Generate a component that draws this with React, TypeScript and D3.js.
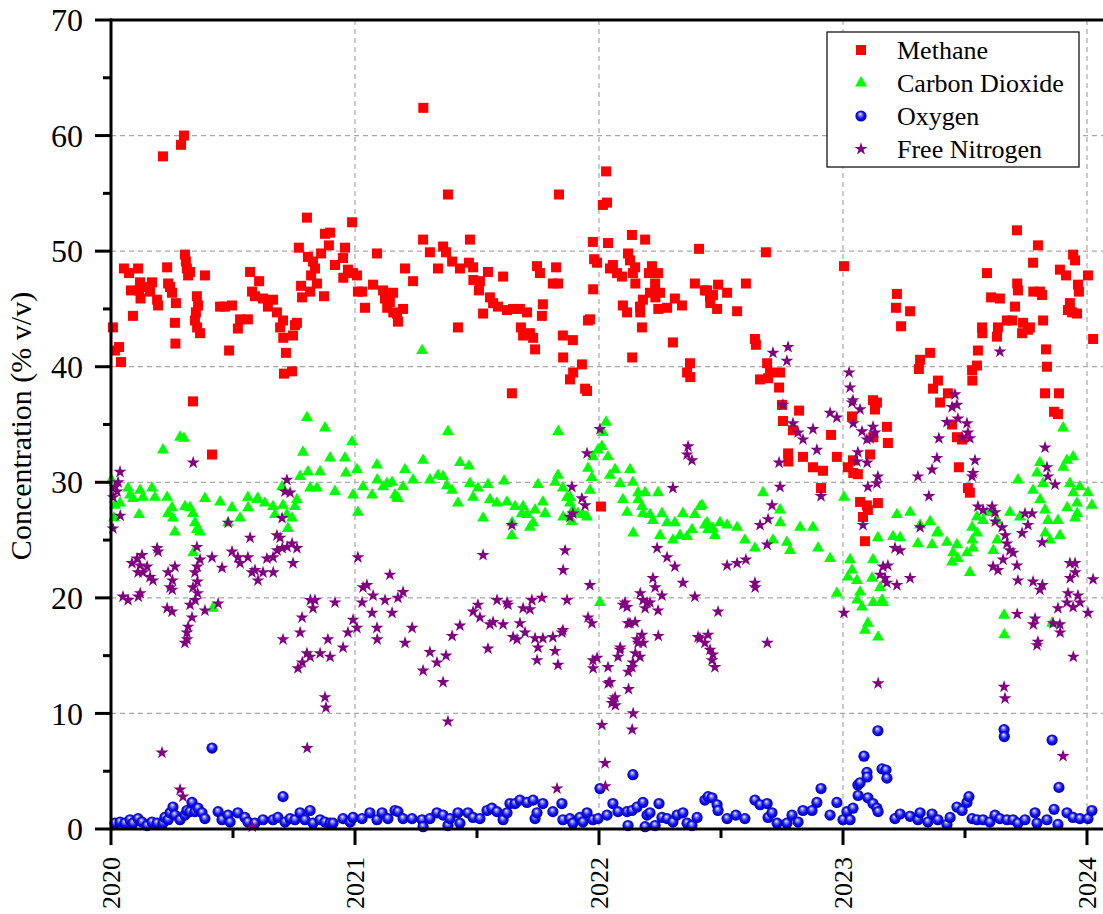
import React from "react";
import * as d3 from "d3";

// [decimal year, % v/v]
const methane = [
  [2020.008,43.4],[2020.016,41.4],[2020.033,41.7],[2020.041,40.4],[2020.053,48.5],[2020.074,48.1],[2020.082,46.6],[2020.090,44.4],[2020.111,48.5],[2020.115,46.6],[2020.119,47.3],[2020.121,45.9],[2020.139,46.9],[2020.160,46.5],[2020.168,47.3],[2020.189,45.8],[2020.193,45.3],[2020.213,58.2],[2020.230,48.6],[2020.234,47.2],[2020.242,46.9],[2020.250,46.4],[2020.262,43.8],[2020.264,42.0],[2020.266,45.5],[2020.287,59.2],[2020.299,60.0],[2020.303,49.7],[2020.307,49.1],[2020.311,48.5],[2020.316,47.9],[2020.324,48.2],[2020.336,37.0],[2020.344,44.0],[2020.348,44.7],[2020.352,46.1],[2020.353,43.4],[2020.357,45.3],[2020.365,42.9],[2020.385,47.9],[2020.414,32.4],[2020.447,45.2],[2020.467,45.2],[2020.484,41.4],[2020.496,45.3],[2020.520,43.3],[2020.529,44.1],[2020.561,44.1],[2020.570,48.2],[2020.578,46.5],[2020.590,46.1],[2020.607,47.4],[2020.623,45.9],[2020.643,45.2],[2020.664,45.8],[2020.680,44.7],[2020.693,43.4],[2020.705,44.0],[2020.706,42.5],[2020.709,39.4],[2020.717,41.2],[2020.742,39.6],[2020.746,42.7],[2020.754,43.6],[2020.762,43.8],[2020.770,50.3],[2020.779,47.0],[2020.783,46.0],[2020.803,52.9],[2020.807,49.5],[2020.816,46.5],[2020.820,47.9],[2020.828,49.1],[2020.836,48.5],[2020.844,47.2],[2020.861,49.8],[2020.873,46.1],[2020.877,51.5],[2020.893,50.5],[2020.898,51.6],[2020.918,48.8],[2020.951,49.4],[2020.952,47.7],[2020.959,50.3],[2020.971,48.4],[2020.988,52.5],[2020.992,48.1],
  [2021.008,47.9],[2021.012,46.5],[2021.029,46.5],[2021.041,45.1],[2021.074,47.1],[2021.090,49.8],[2021.115,46.6],[2021.123,45.9],[2021.131,46.0],[2021.132,45.1],[2021.143,45.6],[2021.156,46.4],[2021.157,44.7],[2021.172,44.6],[2021.176,43.9],[2021.197,45.0],[2021.205,48.5],[2021.238,47.4],[2021.279,51.0],[2021.280,62.4],[2021.307,49.9],[2021.340,48.5],[2021.361,50.4],[2021.373,49.9],[2021.381,54.9],[2021.398,49.1],[2021.422,43.4],[2021.430,48.5],[2021.467,49.0],[2021.471,51.0],[2021.484,48.6],[2021.485,47.5],[2021.508,46.6],[2021.512,47.4],[2021.525,44.6],[2021.545,48.2],[2021.553,46.0],[2021.566,45.5],[2021.586,45.2],[2021.607,47.8],[2021.623,44.9],[2021.643,37.7],[2021.648,45.0],[2021.676,45.0],[2021.680,43.4],[2021.689,42.7],[2021.705,44.7],[2021.717,42.9],[2021.730,42.5],[2021.738,41.5],[2021.746,48.7],[2021.758,48.1],[2021.766,44.4],[2021.770,45.4],[2021.811,47.2],[2021.824,48.6],[2021.832,47.2],[2021.836,54.9],[2021.852,42.7],[2021.853,40.8],[2021.881,38.9],[2021.893,42.3],[2021.894,39.5],[2021.930,40.2],[2021.943,38.1],[2021.951,37.9],[2021.955,44.0],[2021.963,44.1],[2021.975,50.8],[2021.976,46.7],[2021.980,49.3],[2021.992,49.0],
  [2022.008,27.9],[2022.016,54.0],[2022.029,56.9],[2022.033,54.2],[2022.037,50.7],[2022.045,48.5],[2022.057,48.8],[2022.074,48.1],[2022.094,47.8],[2022.098,45.3],[2022.115,44.7],[2022.119,49.8],[2022.127,49.2],[2022.135,51.4],[2022.136,40.8],[2022.139,48.1],[2022.148,48.6],[2022.149,47.2],[2022.168,45.2],[2022.169,44.7],[2022.176,43.4],[2022.180,45.8],[2022.189,51.0],[2022.205,48.1],[2022.209,46.4],[2022.217,48.7],[2022.230,47.2],[2022.231,46.0],[2022.242,48.1],[2022.243,45.0],[2022.250,46.4],[2022.279,45.1],[2022.303,42.1],[2022.311,45.9],[2022.340,45.3],[2022.361,39.5],[2022.373,40.3],[2022.374,39.1],[2022.393,47.2],[2022.410,50.2],[2022.434,46.6],[2022.443,46.6],[2022.455,46.0],[2022.456,45.5],[2022.467,46.2],[2022.484,45.0],[2022.488,47.1],[2022.525,46.4],[2022.566,44.8],[2022.602,47.2],[2022.639,42.4],[2022.643,41.9],[2022.660,38.9],[2022.684,49.9],[2022.689,40.3],[2022.693,39.0],[2022.701,39.5],[2022.738,38.2],[2022.742,39.5],[2022.750,36.7],[2022.754,35.3],[2022.775,32.5],[2022.776,31.8],[2022.795,34.5],[2022.820,36.2],[2022.836,32.2],[2022.877,31.3],[2022.910,29.5],[2022.918,31.0],[2022.951,34.1],[2022.975,32.2],
  [2023.004,48.7],[2023.020,31.3],[2023.037,35.7],[2023.041,31.9],[2023.042,30.8],[2023.061,30.7],[2023.070,28.3],[2023.082,27.0],[2023.090,24.9],[2023.098,28.0],[2023.102,27.6],[2023.111,32.4],[2023.123,37.1],[2023.124,33.9],[2023.131,36.3],[2023.139,36.9],[2023.143,28.2],[2023.180,34.8],[2023.184,33.4],[2023.217,45.1],[2023.221,46.3],[2023.238,43.5],[2023.275,44.8],[2023.311,39.8],[2023.316,40.6],[2023.357,41.2],[2023.369,38.1],[2023.389,38.8],[2023.398,36.9],[2023.430,37.7],[2023.447,35.0],[2023.467,33.9],[2023.475,31.3],[2023.488,33.7],[2023.512,29.5],[2023.520,29.1],[2023.529,39.7],[2023.530,38.8],[2023.549,40.1],[2023.553,41.4],[2023.570,43.4],[2023.571,42.9],[2023.590,48.1],[2023.607,46.0],[2023.631,42.6],[2023.635,43.4],[2023.643,45.9],[2023.672,44.0],[2023.693,44.0],[2023.705,45.2],[2023.713,51.8],[2023.714,47.2],[2023.717,46.6],[2023.734,42.9],[2023.738,43.8],[2023.758,43.2],[2023.766,43.4],[2023.779,49.0],[2023.780,46.5],[2023.799,50.5],[2023.807,46.5],[2023.816,46.2],[2023.820,44.0],[2023.828,37.7],[2023.832,41.5],[2023.836,40.0],[2023.865,36.1],[2023.881,35.9],[2023.885,37.7],[2023.889,48.4],[2023.914,47.9],[2023.922,44.9],[2023.930,45.5],[2023.939,44.7],[2023.943,49.7],[2023.951,49.2],[2023.959,44.6],[2023.963,47.1],[2023.967,46.5],[2024.004,47.9],[2024.025,42.4],
];

const carbonDioxide = [
  [2020.002,30.2],[2020.012,26.9],[2020.016,28.0],[2020.037,28.2],[2020.070,29.5],[2020.078,28.9],[2020.090,28.6],[2020.115,27.2],[2020.119,29.3],[2020.131,28.7],[2020.168,29.5],[2020.180,28.7],[2020.213,32.8],[2020.230,28.7],[2020.234,27.3],[2020.250,27.8],[2020.254,26.9],[2020.262,25.7],[2020.283,33.9],[2020.299,33.8],[2020.303,27.9],[2020.324,27.8],[2020.336,27.3],[2020.337,23.9],[2020.344,26.5],[2020.352,25.9],[2020.365,25.7],[2020.385,28.6],[2020.418,19.1],[2020.447,28.3],[2020.480,26.5],[2020.496,27.8],[2020.529,26.9],[2020.561,28.7],[2020.562,27.8],[2020.598,28.5],[2020.602,28.6],[2020.631,28.2],[2020.664,27.9],[2020.672,27.2],[2020.701,29.6],[2020.705,28.0],[2020.721,27.2],[2020.725,26.0],[2020.742,26.9],[2020.754,27.9],[2020.762,28.5],[2020.775,30.5],[2020.787,32.6],[2020.803,35.6],[2020.807,30.9],[2020.816,29.5],[2020.844,29.5],[2020.857,30.9],[2020.877,34.7],[2020.898,32.1],[2020.918,29.2],[2020.959,32.1],[2020.963,30.8],[2020.988,33.5],[2020.992,28.9],
  [2021.008,31.1],[2021.012,27.4],[2021.033,29.6],[2021.070,28.9],[2021.090,31.5],[2021.091,30.2],[2021.115,29.6],[2021.131,29.9],[2021.152,30.0],[2021.164,28.9],[2021.172,28.7],[2021.176,28.6],[2021.197,29.6],[2021.205,31.1],[2021.238,30.2],[2021.275,41.4],[2021.279,31.9],[2021.307,30.2],[2021.340,30.6],[2021.361,30.5],[2021.377,29.7],[2021.381,34.4],[2021.398,29.3],[2021.422,28.2],[2021.430,31.7],[2021.467,31.4],[2021.471,29.9],[2021.484,28.7],[2021.504,29.5],[2021.525,26.9],[2021.545,29.8],[2021.553,28.5],[2021.582,28.2],[2021.611,30.1],[2021.623,28.3],[2021.643,25.4],[2021.644,26.5],[2021.656,27.9],[2021.684,27.3],[2021.689,27.9],[2021.705,27.2],[2021.717,26.1],[2021.730,26.5],[2021.738,27.6],[2021.750,29.8],[2021.770,28.3],[2021.779,27.3],[2021.820,30.0],[2021.832,30.6],[2021.833,34.4],[2021.852,29.5],[2021.853,27.0],[2021.869,28.7],[2021.881,28.2],[2021.882,28.7],[2021.889,26.6],[2021.893,27.6],[2021.914,27.3],[2021.934,27.2],[2021.951,27.0],[2021.955,31.2],[2021.963,29.3],[2021.971,30.4],[2021.975,32.2],[2021.996,32.8],
  [2022.004,19.6],[2022.012,33.1],[2022.016,34.3],[2022.029,35.2],[2022.037,32.2],[2022.045,30.6],[2022.066,31.1],[2022.086,29.9],[2022.098,28.5],[2022.115,27.4],[2022.127,31.1],[2022.139,30.0],[2022.140,25.6],[2022.160,29.1],[2022.161,28.5],[2022.176,27.9],[2022.180,27.3],[2022.189,29.1],[2022.209,27.2],[2022.221,26.7],[2022.242,29.1],[2022.250,25.4],[2022.258,27.3],[2022.279,26.5],[2022.303,25.0],[2022.311,26.5],[2022.332,25.4],[2022.344,27.3],[2022.361,25.3],[2022.381,25.9],[2022.393,27.2],[2022.414,27.9],[2022.422,28.0],[2022.434,26.3],[2022.443,26.5],[2022.447,25.9],[2022.467,26.0],[2022.475,25.4],[2022.496,26.5],[2022.525,26.3],[2022.566,26.1],[2022.598,25.0],[2022.639,24.3],[2022.672,29.1],[2022.713,25.0],[2022.742,27.6],[2022.743,26.5],[2022.770,24.8],[2022.783,24.1],[2022.824,26.1],[2022.877,26.1],[2022.898,24.3],[2022.947,23.4],[2022.975,20.4],
  [2023.004,28.7],[2023.020,21.8],[2023.029,23.3],[2023.037,22.4],[2023.057,21.5],[2023.058,19.8],[2023.070,20.5],[2023.078,19.2],[2023.090,17.2],[2023.102,17.8],[2023.119,21.7],[2023.123,23.3],[2023.124,19.6],[2023.143,25.2],[2023.144,16.6],[2023.152,20.9],[2023.160,19.8],[2023.164,19.6],[2023.205,25.3],[2023.221,27.2],[2023.234,25.2],[2023.275,27.4],[2023.307,24.7],[2023.316,26.3],[2023.357,26.6],[2023.365,24.6],[2023.385,25.6],[2023.389,25.7],[2023.426,24.8],[2023.447,23.1],[2023.451,23.9],[2023.467,24.6],[2023.471,23.4],[2023.508,23.9],[2023.520,22.2],[2023.529,26.1],[2023.530,25.0],[2023.533,24.3],[2023.549,27.0],[2023.550,25.6],[2023.574,26.7],[2023.590,27.4],[2023.615,27.4],[2023.616,24.1],[2023.631,26.7],[2023.632,25.0],[2023.660,18.5],[2023.661,16.8],[2023.684,27.4],[2023.717,30.2],[2023.725,27.0],[2023.779,29.3],[2023.795,30.8],[2023.807,31.7],[2023.808,28.5],[2023.820,29.9],[2023.828,27.6],[2023.829,25.6],[2023.840,26.7],[2023.848,25.0],[2023.857,17.8],[2023.881,26.7],[2023.889,25.4],[2023.902,34.7],[2023.903,31.3],[2023.918,31.9],[2023.919,27.8],[2023.930,29.9],[2023.943,32.2],[2023.944,29.1],[2023.951,26.9],[2023.959,28.2],[2023.960,27.3],[2023.971,29.6],[2024.004,29.1],[2024.020,28.0],
];

const oxygen = [
  [2020.016,0.5],[2020.037,0.6],[2020.057,0.5],[2020.078,0.8],[2020.090,0.5],[2020.111,0.9],[2020.127,0.6],[2020.148,0.3],[2020.168,0.6],[2020.189,0.5],[2020.213,0.5],[2020.221,1.0],[2020.234,0.8],[2020.242,1.4],[2020.254,1.9],[2020.262,1.2],[2020.283,0.8],[2020.303,1.2],[2020.311,1.6],[2020.324,1.5],[2020.332,2.3],[2020.344,1.5],[2020.357,1.8],[2020.373,1.4],[2020.385,0.9],[2020.414,7.0],[2020.439,1.5],[2020.455,0.8],[2020.480,1.2],[2020.488,0.6],[2020.520,1.4],[2020.549,1.0],[2020.561,0.6],[2020.590,0.5],[2020.623,0.8],[2020.664,0.8],[2020.684,1.0],[2020.705,2.8],[2020.713,0.6],[2020.734,0.9],[2020.754,0.8],[2020.775,1.4],[2020.795,0.8],[2020.816,1.6],[2020.828,0.5],[2020.857,0.8],[2020.877,0.6],[2020.898,0.5],[2020.910,0.5],[2020.951,0.9],[2020.980,0.6],[2020.992,1.0],
  [2021.029,0.9],[2021.061,1.4],[2021.090,0.8],[2021.111,1.4],[2021.135,0.9],[2021.164,1.6],[2021.176,1.5],[2021.197,0.9],[2021.234,0.9],[2021.275,0.8],[2021.279,0.2],[2021.307,0.9],[2021.336,1.4],[2021.361,1.2],[2021.381,0.3],[2021.389,0.9],[2021.422,1.4],[2021.430,0.5],[2021.463,1.4],[2021.484,1.0],[2021.512,0.9],[2021.541,1.6],[2021.561,1.8],[2021.582,1.5],[2021.607,0.8],[2021.623,1.4],[2021.635,2.2],[2021.656,2.2],[2021.676,2.5],[2021.705,2.3],[2021.730,2.5],[2021.738,0.9],[2021.746,1.4],[2021.770,2.2],[2021.811,1.5],[2021.848,2.2],[2021.852,0.8],[2021.881,0.9],[2021.893,0.5],[2021.922,1.0],[2021.934,0.6],[2021.951,1.4],[2021.975,0.8],[2021.996,0.9],
  [2022.004,3.5],[2022.033,1.2],[2022.057,2.2],[2022.078,1.5],[2022.115,1.5],[2022.119,0.3],[2022.135,1.6],[2022.139,4.7],[2022.156,1.9],[2022.180,2.3],[2022.189,0.2],[2022.197,1.2],[2022.209,1.4],[2022.230,0.3],[2022.246,2.2],[2022.258,1.0],[2022.279,0.9],[2022.303,0.6],[2022.320,1.2],[2022.344,1.4],[2022.361,0.5],[2022.381,0.3],[2022.402,1.0],[2022.434,2.5],[2022.447,2.8],[2022.463,2.7],[2022.484,2.1],[2022.488,1.6],[2022.525,0.9],[2022.561,1.2],[2022.598,0.9],[2022.639,2.5],[2022.660,2.1],[2022.689,2.2],[2022.693,1.0],[2022.709,1.4],[2022.730,0.5],[2022.770,0.5],[2022.791,1.2],[2022.816,0.6],[2022.836,1.6],[2022.873,1.6],[2022.893,2.3],[2022.910,3.5],[2022.947,1.2],[2022.975,2.3],
  [2023.000,0.8],[2023.016,1.5],[2023.029,0.8],[2023.041,1.8],[2023.061,3.8],[2023.062,2.9],[2023.070,4.0],[2023.086,6.3],[2023.098,4.9],[2023.099,4.5],[2023.102,2.7],[2023.123,2.2],[2023.139,1.8],[2023.143,8.5],[2023.144,1.5],[2023.160,5.2],[2023.176,5.1],[2023.180,4.4],[2023.213,0.9],[2023.234,1.3],[2023.275,1.1],[2023.307,0.8],[2023.316,1.4],[2023.348,0.6],[2023.365,1.3],[2023.389,0.8],[2023.426,0.4],[2023.439,1.0],[2023.467,1.9],[2023.488,1.6],[2023.508,2.3],[2023.516,2.8],[2023.529,0.9],[2023.549,0.8],[2023.574,0.8],[2023.602,0.6],[2023.623,1.2],[2023.643,0.9],[2023.660,8.6],[2023.661,8.0],[2023.672,0.8],[2023.697,0.8],[2023.717,0.5],[2023.746,0.8],[2023.787,1.4],[2023.795,0.5],[2023.836,0.8],[2023.857,7.7],[2023.865,1.7],[2023.881,0.4],[2023.885,3.6],[2023.918,1.4],[2023.943,1.0],[2023.971,0.9],[2024.004,0.9],[2024.020,1.6],
];

const freeNitrogen = [
  [2020.008,26.0],[2020.009,28.7],[2020.016,29.6],[2020.025,29.2],[2020.029,30.0],[2020.037,30.9],[2020.038,27.1],[2020.049,20.1],[2020.070,19.8],[2020.086,23.0],[2020.107,23.4],[2020.111,22.2],[2020.112,20.1],[2020.119,22.8],[2020.120,20.4],[2020.127,23.7],[2020.131,22.2],[2020.148,22.7],[2020.160,21.8],[2020.172,21.5],[2020.189,24.3],[2020.193,24.0],[2020.209,6.6],[2020.230,19.1],[2020.234,22.2],[2020.242,20.9],[2020.250,18.8],[2020.251,20.7],[2020.252,21.5],[2020.262,22.7],[2020.283,3.4],[2020.295,2.8],[2020.303,16.1],[2020.311,17.0],[2020.312,16.4],[2020.316,17.5],[2020.324,19.4],[2020.332,18.3],[2020.336,20.9],[2020.337,31.7],[2020.344,22.2],[2020.345,19.8],[2020.352,24.4],[2020.353,22.7],[2020.354,21.4],[2020.355,20.4],[2020.365,23.3],[2020.385,18.9],[2020.414,23.5],[2020.439,19.5],[2020.455,22.6],[2020.480,26.5],[2020.496,24.0],[2020.520,23.5],[2020.529,23.0],[2020.561,23.5],[2020.570,25.2],[2020.578,22.2],[2020.579,0.2],[2020.590,22.4],[2020.602,21.5],[2020.623,22.2],[2020.639,23.4],[2020.664,23.5],[2020.665,22.2],[2020.680,25.4],[2020.681,24.1],[2020.693,25.2],[2020.701,26.9],[2020.702,24.3],[2020.705,16.4],[2020.713,29.2],[2020.721,30.2],[2020.722,24.4],[2020.734,29.1],[2020.742,24.7],[2020.746,23.0],[2020.762,24.3],[2020.766,13.9],[2020.775,17.0],[2020.783,18.3],[2020.784,14.4],[2020.803,15.2],[2020.804,7.0],[2020.816,14.9],[2020.817,19.8],[2020.828,19.1],[2020.836,19.8],[2020.857,15.2],[2020.877,11.4],[2020.881,10.5],[2020.889,16.4],[2020.898,14.9],[2020.918,19.6],[2020.951,15.7],[2020.971,17.0],[2020.992,18.1],
  [2021.008,17.4],[2021.012,23.5],[2021.029,19.6],[2021.033,20.9],[2021.049,21.1],[2021.070,18.7],[2021.074,20.2],[2021.090,17.4],[2021.091,16.4],[2021.123,19.8],[2021.143,22.0],[2021.152,18.7],[2021.176,20.0],[2021.197,20.5],[2021.205,16.1],[2021.234,17.4],[2021.279,13.7],[2021.307,15.3],[2021.336,14.4],[2021.361,12.7],[2021.373,15.0],[2021.381,9.3],[2021.398,16.7],[2021.430,17.6],[2021.484,18.8],[2021.504,19.4],[2021.512,18.3],[2021.525,23.7],[2021.545,15.6],[2021.553,17.7],[2021.566,17.9],[2021.582,19.8],[2021.607,17.7],[2021.623,19.6],[2021.627,19.4],[2021.643,26.3],[2021.648,16.6],[2021.664,16.4],[2021.676,17.8],[2021.689,19.1],[2021.697,17.0],[2021.717,19.0],[2021.725,19.8],[2021.738,16.5],[2021.746,14.6],[2021.750,15.7],[2021.766,20.0],[2021.770,16.5],[2021.811,16.6],[2021.820,15.4],[2021.828,3.5],[2021.832,14.2],[2021.848,17.0],[2021.852,17.2],[2021.853,22.4],[2021.861,24.1],[2021.869,19.8],[2021.881,27.0],[2021.889,29.6],[2021.893,27.3],[2021.930,28.6],[2021.943,28.0],[2021.951,32.5],[2021.955,18.3],[2021.963,21.1],[2021.971,17.8],[2021.975,14.6],[2021.976,13.9],[2021.992,14.8],
  [2022.004,34.6],[2022.012,9.0],[2022.025,5.7],[2022.026,3.7],[2022.037,14.0],[2022.038,12.6],[2022.045,12.7],[2022.053,10.9],[2022.057,11.2],[2022.066,11.4],[2022.067,10.7],[2022.078,14.9],[2022.086,15.5],[2022.087,15.7],[2022.098,19.4],[2022.107,19.6],[2022.115,19.2],[2022.119,17.8],[2022.120,13.6],[2022.121,12.1],[2022.127,17.8],[2022.135,14.0],[2022.136,8.6],[2022.139,14.4],[2022.140,10.0],[2022.148,17.9],[2022.149,15.2],[2022.156,16.4],[2022.160,16.1],[2022.168,14.9],[2022.169,20.4],[2022.176,16.8],[2022.180,19.8],[2022.181,16.1],[2022.189,19.1],[2022.197,19.6],[2022.209,19.6],[2022.221,21.7],[2022.230,20.9],[2022.238,24.3],[2022.242,18.9],[2022.243,16.7],[2022.258,20.2],[2022.279,23.5],[2022.303,29.5],[2022.311,22.7],[2022.344,21.3],[2022.361,32.4],[2022.365,33.1],[2022.381,31.9],[2022.393,20.1],[2022.406,16.6],[2022.414,16.5],[2022.434,16.1],[2022.447,16.8],[2022.455,15.5],[2022.463,14.6],[2022.467,15.1],[2022.475,14.0],[2022.488,18.8],[2022.525,22.8],[2022.566,23.0],[2022.602,23.3],[2022.639,21.3],[2022.640,20.9],[2022.660,26.3],[2022.689,24.6],[2022.690,16.1],[2022.693,26.8],[2022.709,28.0],[2022.713,41.2],[2022.738,31.7],[2022.742,29.6],[2022.754,36.7],[2022.770,40.5],[2022.775,41.7],[2022.795,35.1],[2022.816,34.3],[2022.836,33.7],[2022.877,34.6],[2022.893,32.8],[2022.910,28.8],[2022.947,36.0],[2022.975,35.6],
  [2023.004,18.7],[2023.025,39.5],[2023.029,38.2],[2023.037,36.9],[2023.041,37.1],[2023.042,35.1],[2023.057,31.8],[2023.061,32.6],[2023.070,36.3],[2023.078,34.4],[2023.082,26.3],[2023.098,33.7],[2023.099,31.7],[2023.102,29.6],[2023.111,33.8],[2023.123,34.8],[2023.131,34.3],[2023.139,29.9],[2023.143,30.5],[2023.144,12.6],[2023.152,22.0],[2023.164,22.7],[2023.172,21.7],[2023.180,21.3],[2023.184,22.8],[2023.213,24.3],[2023.221,21.1],[2023.234,24.1],[2023.275,21.7],[2023.307,30.5],[2023.316,26.1],[2023.352,28.8],[2023.365,31.1],[2023.385,32.1],[2023.393,33.8],[2023.426,35.2],[2023.447,36.5],[2023.459,37.6],[2023.467,36.7],[2023.471,35.5],[2023.488,33.9],[2023.508,35.1],[2023.512,34.3],[2023.520,33.8],[2023.529,30.5],[2023.533,30.8],[2023.541,31.9],[2023.553,27.9],[2023.574,27.6],[2023.611,27.9],[2023.615,22.7],[2023.623,27.4],[2023.624,26.6],[2023.635,22.4],[2023.643,41.3],[2023.652,26.1],[2023.656,23.3],[2023.660,12.3],[2023.664,11.3],[2023.665,25.4],[2023.672,24.7],[2023.684,24.1],[2023.697,23.9],[2023.713,22.8],[2023.714,18.6],[2023.717,21.5],[2023.734,25.6],[2023.746,27.3],[2023.758,26.3],[2023.775,27.3],[2023.779,21.4],[2023.780,17.7],[2023.787,18.2],[2023.795,15.9],[2023.799,16.2],[2023.807,20.7],[2023.816,24.8],[2023.817,21.1],[2023.828,33.0],[2023.836,31.3],[2023.840,30.5],[2023.861,17.8],[2023.869,29.8],[2023.881,19.1],[2023.889,17.7],[2023.890,17.0],[2023.902,6.3],[2023.918,19.6],[2023.922,20.4],[2023.930,23.0],[2023.931,21.7],[2023.943,19.2],[2023.944,14.9],[2023.951,23.0],[2023.952,22.2],[2023.963,20.2],[2023.971,19.6],[2024.004,18.7],[2024.025,21.6],
];

const seriesNames = ["Methane", "Carbon Dioxide", "Oxygen", "Free Nitrogen"];
const yearTicks = [2020, 2021, 2022, 2023, 2024];
const yMajorTicks = [0, 10, 20, 30, 40, 50, 60, 70];
const yTitle = "Concentration (% v/v)";

const W = 1103;
const H = 914;
const FONT = "Liberation Serif, DejaVu Serif, serif";

const x = d3.scaleLinear().domain([2020, 2024]).range([111, 1087]);
const y = d3.scaleLinear().domain([0, 70]).range([829, 20]);

const triPath = d3.symbol().type(d3.symbolTriangle).size(62)() as string;
const starPath = d3.symbol().type(d3.symbolStar).size(52)() as string;

const Square = ({ cx, cy }: { cx: number; cy: number }) => (
  <rect x={cx - 5} y={cy - 5} width={10} height={10} fill="#ff0000" />
);
const Triangle = ({ cx, cy }: { cx: number; cy: number }) => (
  <path d={triPath} transform={`translate(${cx},${cy})`} fill="#00ff00" />
);
const Ball = ({ cx, cy }: { cx: number; cy: number }) => (
  <circle cx={cx} cy={cy} r={5.6} fill="url(#ball)" />
);
const Star = ({ cx, cy }: { cx: number; cy: number }) => (
  <path d={starPath} transform={`translate(${cx},${cy})`} fill="#800080" />
);

const markers = [Square, Triangle, Ball, Star];

export default function App() {
  const [x0, x1] = [x.range()[0], W];
  const [yBottom, yTop] = y.range();
  const yMinor = d3.range(5, 70, 10);
  const xMinor = yearTicks.slice(0, -1).map((t) => t + 0.5);
  const series = [methane, carbonDioxide, oxygen, freeNitrogen];

  const legendX = 827;
  const legendY = 32;
  const rowH = 33;

  return (
    <svg
      width={W}
      height={H}
      style={{ position: "absolute", left: 0, top: 0, background: "#fff", fontFamily: FONT }}
    >
      <defs>
        <radialGradient id="ball" cx="0.5" cy="0.5" r="0.5" fx="0.42" fy="0.3">
          <stop offset="0" stopColor="#ffffff" />
          <stop offset="0.25" stopColor="#8a8aff" />
          <stop offset="0.6" stopColor="#1414f5" />
          <stop offset="1" stopColor="#0000b0" />
        </radialGradient>
      </defs>

      {/* grid */}
      <g stroke="#a8a8a8" strokeWidth={1.2} strokeDasharray="5,4">
        {yMajorTicks.filter((v) => v > 0 && v < 70).map((v) => (
          <line key={`gy${v}`} x1={x0} x2={x1} y1={y(v)} y2={y(v)} />
        ))}
        {yearTicks.filter((t) => t > 2020).map((t) => (
          <line key={`gx${t}`} x1={x(t)} x2={x(t)} y1={yTop} y2={yBottom} />
        ))}
      </g>

      {/* points */}
      {series.map((data, si) => {
        const M = markers[si];
        return (
          <g key={seriesNames[si]}>
            {data.map((d, i) => (
              <M key={i} cx={x(d[0])} cy={y(d[1])} />
            ))}
          </g>
        );
      })}

      {/* axes frame */}
      <g stroke="#000" strokeWidth={3}>
        <line x1={x0} x2={x0} y1={yTop - 1.5} y2={yBottom + 1.5} />
        <line x1={x0} x2={x1} y1={yTop} y2={yTop} />
        <line x1={x0} x2={x1} y1={yBottom} y2={yBottom} />
        {yMajorTicks.map((v) => (
          <line key={`ty${v}`} x1={x0 - 16} x2={x0} y1={y(v)} y2={y(v)} />
        ))}
        {yMinor.map((v) => (
          <line key={`tym${v}`} x1={x0 - 8} x2={x0} y1={y(v)} y2={y(v)} />
        ))}
        {yearTicks.map((t) => (
          <line key={`tx${t}`} x1={x(t)} x2={x(t)} y1={yBottom} y2={yBottom + 16} />
        ))}
        {xMinor.map((t) => (
          <line key={`txm${t}`} x1={x(t)} x2={x(t)} y1={yBottom} y2={yBottom + 9} />
        ))}
      </g>

      {/* tick labels */}
      <g fontSize={32} fill="#000" textAnchor="end">
        {yMajorTicks.map((v) => (
          <text key={`ly${v}`} x={83} y={y(v)} dy="0.35em">
            {v}
          </text>
        ))}
      </g>
      <g fontSize={26} fill="#000" textAnchor="end">
        {yearTicks.map((t) => (
          <text
            key={`lx${t}`}
            transform={`translate(${x(t)},857) rotate(-90)`}
            dy="0.35em"
          >
            {t}
          </text>
        ))}
      </g>

      {/* y title */}
      <text
        transform={`translate(31,426) rotate(-90)`}
        textAnchor="middle"
        fontSize={30}
        fill="#000"
      >
        {yTitle}
      </text>

      {/* legend */}
      <rect
        x={legendX}
        y={legendY}
        width={252}
        height={135}
        fill="#fff"
        stroke="#000"
        strokeWidth={1.2}
      />
      {seriesNames.map((name, i) => {
        const M = markers[i];
        const cy = legendY + 18 + i * rowH;
        return (
          <g key={`leg${name}`}>
            <M cx={861} cy={cy} />
            <text x={897} y={cy} dy="0.33em" fontSize={26} fill="#000">
              {name}
            </text>
          </g>
        );
      })}
    </svg>
  );
}
